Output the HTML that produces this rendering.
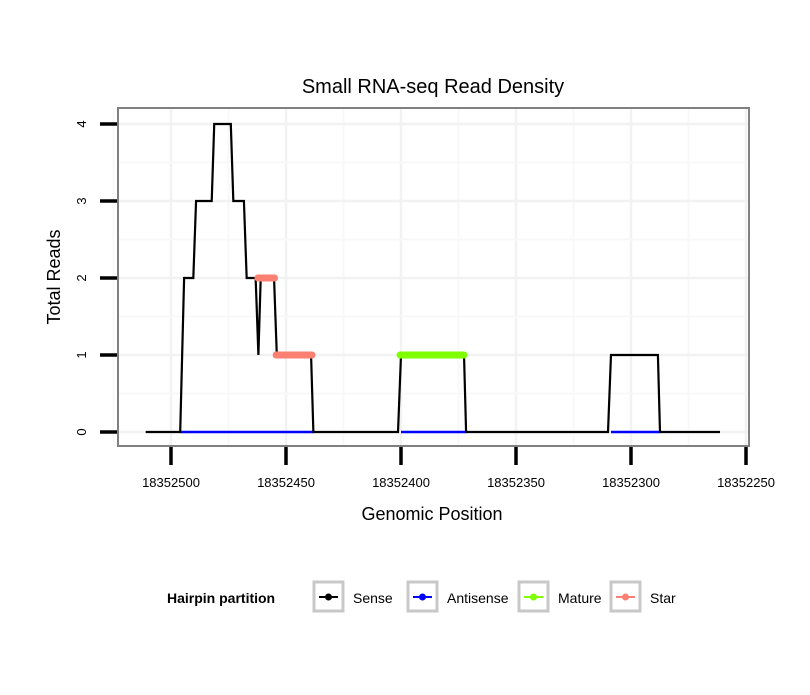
<!DOCTYPE html>
<html><head><meta charset="utf-8"><style>
body{margin:0;background:#fff;font-family:"Liberation Sans",sans-serif}
</style></head><body>
<svg id="c" width="810" height="690" xmlns="http://www.w3.org/2000/svg">
<rect width="810" height="690" fill="#fff"/>
<text x="433" y="93" font-size="20" text-anchor="middle">Small RNA-seq Read Density</text>
<g id="grid"></g>
<g id="series"></g>
<rect x="118" y="108" width="631" height="338" fill="none" stroke="#808080" stroke-width="2"/>
<g id="axes"></g>
<text x="432" y="520" font-size="18" text-anchor="middle">Genomic Position</text>
<text transform="translate(60,277) rotate(-90)" font-size="18" text-anchor="middle">Total Reads</text>
<g>
<text x="167" y="603" font-size="14" font-weight="bold">Hairpin partition</text>
<g id="legend"></g>
</g>
</svg>
<script>
const xTicks=[18352500,18352450,18352400,18352350,18352300,18352250];
const yTicks=[0,1,2,3,4];
const senseX=[18352511,18352496,18352494.3,18352490.3,18352489.1,18352482.3,18352481.2,18352474,18352472.9,18352468.3,18352467.1,18352463.2,18352462,18352461,18352455.2,18352454,18352439.1,18352438.1,18352401.3,18352400,18352372.6,18352371.7,18352310,18352308.7,18352288.3,18352287.4,18352261.3];
const senseY=[0,0,2,2,3,3,4,4,3,3,2,2,1,2,2,1,1,0,0,1,1,0,0,1,1,0,0];
const antiSegs=[[18352496,18352438.1],[18352400,18352371.7],[18352308.7,18352287.4]];
const matureSegs=[[18352400.4,18352372.6,1]];
const starSegs=[[18352462.2,18352455,2],[18352454.3,18352438.7,1]];
const legendLabels=["Sense","Antisense","Mature","Star"];
const legendColors=["#000","#0000ff","#7fff00","#fa8072"];

const NS="http://www.w3.org/2000/svg";
const X=v=>171+(18352500-v)*2.3;
const Y=v=>432-v*77;
function mk(tag,attrs,parent){const e=document.createElementNS(NS,tag);for(const k in attrs)e.setAttribute(k,attrs[k]);document.getElementById(parent).appendChild(e);return e;}
for(let i=0;i<xTicks.length;i++){
  const g=mk('line',{x1:X(xTicks[i]),x2:X(xTicks[i]),y1:109,y2:445,stroke:'#f2f2f2','stroke-width':2.5},'grid');
  
  
  if(i<xTicks.length-1){const m=mk('line',{x1:X(xTicks[i]-25),x2:X(xTicks[i]-25),y1:109,y2:445,stroke:'#f8f8f8','stroke-width':2},'grid');
  
  }
}
const minX0=X(xTicks[0]+25);
const mx=mk('line',{x1:minX0,x2:minX0,y1:109,y2:445,stroke:'#f8f8f8','stroke-width':2},'grid');


for(let i=0;i<yTicks.length;i++){
  const g=mk('line',{x1:119,x2:748,y1:Y(yTicks[i]),y2:Y(yTicks[i]),stroke:'#f2f2f2','stroke-width':2.5},'grid');
  
  
  if(i<yTicks.length-1){
  const m=mk('line',{x1:119,x2:748,y1:Y(yTicks[i]+0.5),y2:Y(yTicks[i]+0.5),stroke:'#f8f8f8','stroke-width':2},'grid');
  
  }
}
for(const s of antiSegs){const l=mk('line',{x1:X(s[0]),x2:X(s[1]),y1:Y(0),y2:Y(0),stroke:'#0000ff','stroke-width':2.5},'series');

}
const p=mk('polyline',{points:senseX.map((v,i)=>X(v)+','+Y(senseY[i])).join(' '),fill:'none',stroke:'#000','stroke-width':2.2,'stroke-linejoin':'miter'},'series');


for(const s of antiSegs){const l=mk('line',{x1:X(s[0])+1,x2:X(s[1])-1,y1:Y(0),y2:Y(0),stroke:'#0000ff','stroke-width':2},'series');

}
for(const s of matureSegs){const l=mk('line',{x1:X(s[0]),x2:X(s[1]),y1:Y(s[2]),y2:Y(s[2]),stroke:'#7fff00','stroke-width':7,'stroke-linecap':'round'},'series');

}
for(const s of starSegs){const l=mk('line',{x1:X(s[0]),x2:X(s[1]),y1:Y(s[2]),y2:Y(s[2]),stroke:'#fa8072','stroke-width':7,'stroke-linecap':'round'},'series');

}
for(const t of xTicks){
  const l=mk('line',{x1:X(t),x2:X(t),y1:447,y2:465,stroke:'#000','stroke-width':3.5},'axes');
  
  
  const tx=mk('text',{x:X(t),y:487,'font-size':13,'text-anchor':'middle'},'axes');tx.textContent=t;
  
  
}
for(const t of yTicks){
  const l=mk('line',{x1:100,x2:117,y1:Y(t),y2:Y(t),stroke:'#000','stroke-width':3.5},'axes');
  
  
  const tx=mk('text',{transform:`translate(86,${Y(t)}) rotate(-90)`,'font-size':13,'text-anchor':'middle'},'axes');tx.textContent=t;
  
  
}
const lx=[302,396,507,599];
for(let i=0;i<legendLabels.length;i++){
  const x=lx[i];
  const b=mk('rect',{x:x+12,y:582,width:29,height:29,fill:'#fff',stroke:'#c8c8c8','stroke-width':3},'legend');
  
  
  const l=mk('line',{x1:x+17,x2:x+36,y1:597,y2:597,stroke:legendColors[i],'stroke-width':2},'legend');
  
  
  const c=mk('circle',{cx:x+26.5,cy:597,r:3.5,fill:legendColors[i]},'legend');
  
  
  const t=mk('text',{x:x+51,y:603,'font-size':14},'legend');t.textContent=legendLabels[i];
  
  
}
</script>
</body></html>
